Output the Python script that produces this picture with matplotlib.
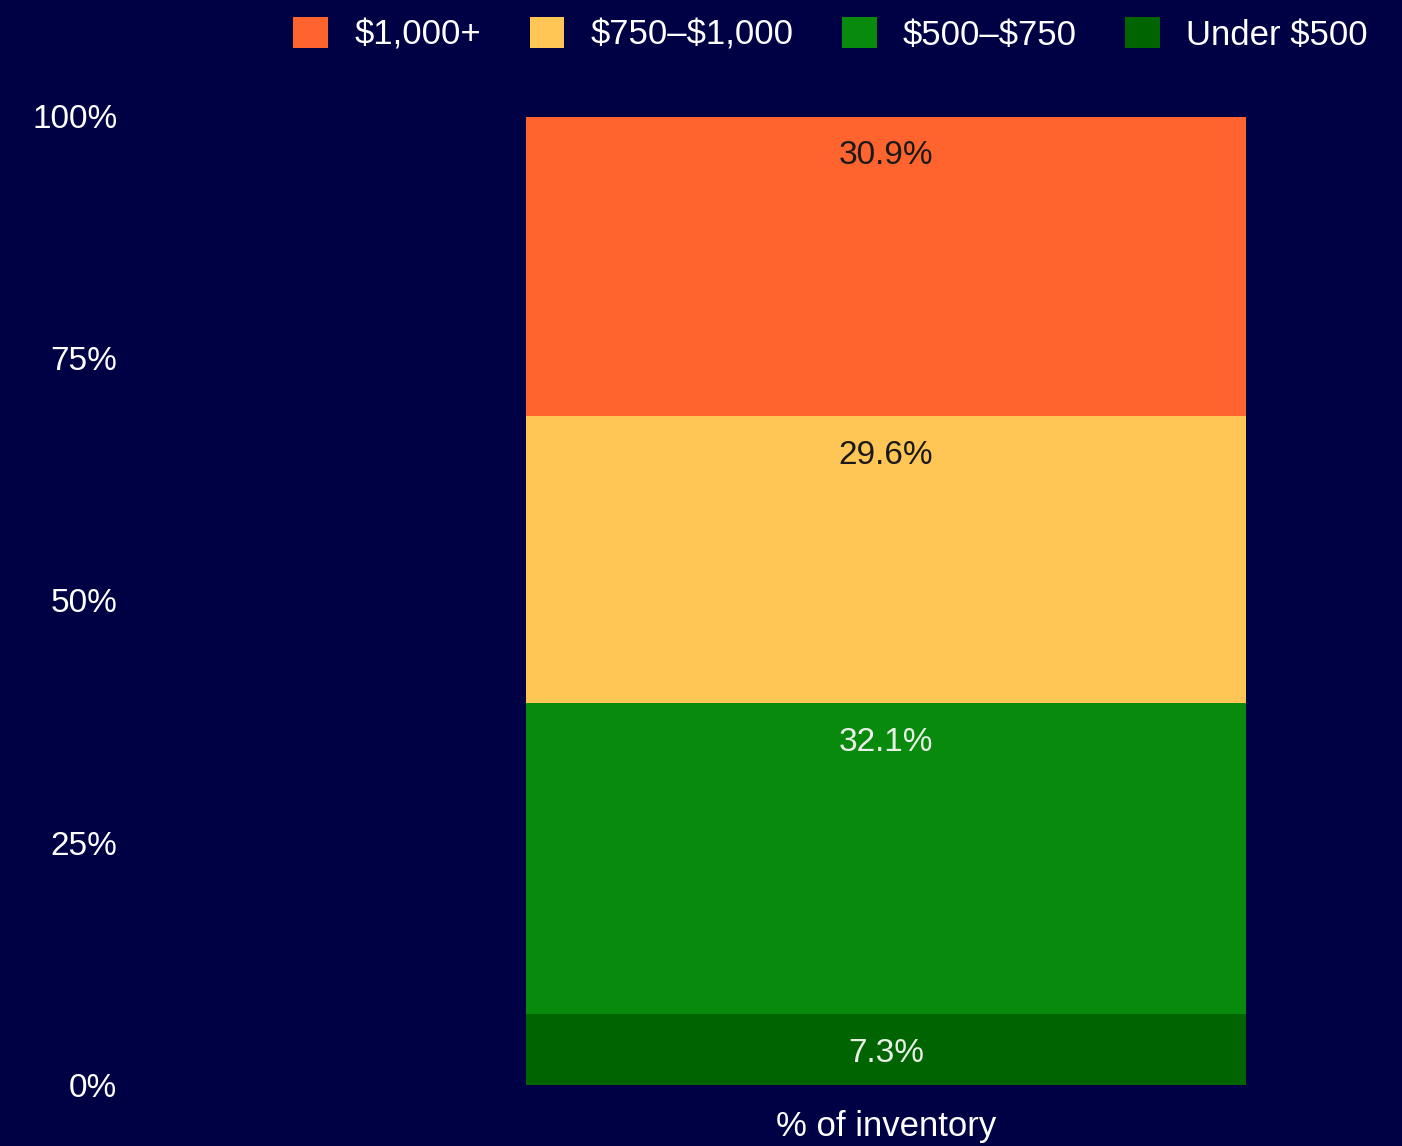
import matplotlib
matplotlib.use("Agg")
import matplotlib.pyplot as plt
from matplotlib.patches import Patch

plt.rcParams['font.family'] = ['Liberation Sans', 'DejaVu Sans']

categories = ["% of inventory"]
series_names = ["Under \\$500", "\\$500–\\$750", "\\$750–\\$1,000", "\\$1,000+"]
series_values = [[7.3], [32.1], [29.6], [30.9]]
series_colors = ["#006400", "#088A0C", "#FFC555", "#FF632E"]
label_colors = ["#E8F0E8", "#E8F0E8", "#1a1a1a", "#1a1a1a"]
ytick_vals = [0, 25, 50, 75, 100]
ytick_labels = ["0%", "25%", "50%", "75%", "100%"]

bg = "#000044"
fig = plt.figure(figsize=(14.02, 11.46), dpi=100, facecolor=bg)
ax = fig.add_axes([130/1402, 61/1146, 1270/1402, 969/1146], facecolor=bg)

x = list(range(len(categories)))
bottom = [0.0] * len(categories)
for name, vals, col, lc in zip(series_names, series_values, series_colors, label_colors):
    bars = ax.bar(x, vals, width=0.8, bottom=bottom, color=col, label=name, linewidth=0)
    for b, v in zip(bars, vals):
        ax.annotate(f"{v:.1f}%", (b.get_x() + b.get_width()/2, b.get_y() + b.get_height()),
                    xytext=(0, -28), textcoords="offset points", ha="center", va="center",
                    fontsize=24, color=lc)
    bottom = [b0 + v for b0, v in zip(bottom, vals)]

ax.set_xlim(-0.84, 0.571)
ax.set_ylim(0, 100)
ax.set_yticks(ytick_vals)
ax.set_yticklabels(ytick_labels)
ax.set_xticks(x)
ax.set_xticklabels(categories)
ax.tick_params(axis='y', length=0, pad=9, labelsize=24, colors="white")
ax.tick_params(axis='x', length=0, pad=18, labelsize=25, colors="white")
for s in ax.spines.values():
    s.set_visible(False)

handles = [Patch(facecolor=c, edgecolor='none') for c in series_colors[::-1]]
fig.legend(handles, series_names[::-1], loc="upper right", bbox_to_anchor=(1385/1402, 1.0),
           ncol=4, frameon=False, fontsize=25, labelcolor="white",
           handlelength=1.0, handleheight=1.0, columnspacing=1.4, handletextpad=0.75,
           borderaxespad=0.1)

fig.savefig("out.png", dpi=100, facecolor=bg)
